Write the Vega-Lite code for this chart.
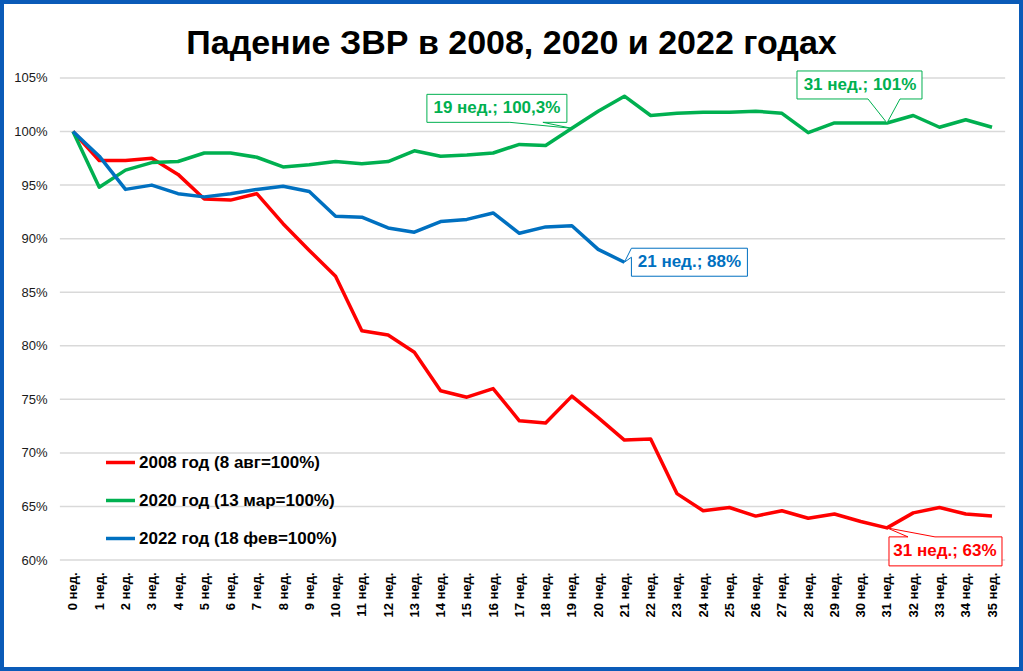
{
  "$schema": "https://vega.github.io/schema/vega-lite/v6.json",
  "width": 1023,
  "height": 671,
  "autosize": {"type": "none"},
  "padding": 0,
  "background": "white",
  "config": {
    "view": {"stroke": "#0a5bb8", "strokeWidth": 8},
    "font": "Liberation Sans"
  },
  "title": {
    "text": "Падение ЗВР в 2008, 2020 и 2022 годах",
    "font": "Liberation Sans",
    "fontSize": 34,
    "fontWeight": "bold",
    "color": "#000000",
    "anchor": "middle",
    "baseline": "alphabetic",
    "offset": -88
  },
  "datasets": {
    "series": [
      {"w": 0, "s": "2008 год (8 авг=100%)", "v": 100},
      {"w": 1, "s": "2008 год (8 авг=100%)", "v": 97.3},
      {"w": 2, "s": "2008 год (8 авг=100%)", "v": 97.3},
      {"w": 3, "s": "2008 год (8 авг=100%)", "v": 97.5},
      {"w": 4, "s": "2008 год (8 авг=100%)", "v": 96.0},
      {"w": 5, "s": "2008 год (8 авг=100%)", "v": 93.7},
      {"w": 6, "s": "2008 год (8 авг=100%)", "v": 93.6},
      {"w": 7, "s": "2008 год (8 авг=100%)", "v": 94.2},
      {"w": 8, "s": "2008 год (8 авг=100%)", "v": 91.4},
      {"w": 9, "s": "2008 год (8 авг=100%)", "v": 88.9},
      {"w": 10, "s": "2008 год (8 авг=100%)", "v": 86.5},
      {"w": 11, "s": "2008 год (8 авг=100%)", "v": 81.4},
      {"w": 12, "s": "2008 год (8 авг=100%)", "v": 81.0},
      {"w": 13, "s": "2008 год (8 авг=100%)", "v": 79.4},
      {"w": 14, "s": "2008 год (8 авг=100%)", "v": 75.8},
      {"w": 15, "s": "2008 год (8 авг=100%)", "v": 75.2},
      {"w": 16, "s": "2008 год (8 авг=100%)", "v": 76.0},
      {"w": 17, "s": "2008 год (8 авг=100%)", "v": 73.0},
      {"w": 18, "s": "2008 год (8 авг=100%)", "v": 72.8},
      {"w": 19, "s": "2008 год (8 авг=100%)", "v": 75.3},
      {"w": 20, "s": "2008 год (8 авг=100%)", "v": 73.3},
      {"w": 21, "s": "2008 год (8 авг=100%)", "v": 71.2},
      {"w": 22, "s": "2008 год (8 авг=100%)", "v": 71.3},
      {"w": 23, "s": "2008 год (8 авг=100%)", "v": 66.2},
      {"w": 24, "s": "2008 год (8 авг=100%)", "v": 64.6},
      {"w": 25, "s": "2008 год (8 авг=100%)", "v": 64.9},
      {"w": 26, "s": "2008 год (8 авг=100%)", "v": 64.1},
      {"w": 27, "s": "2008 год (8 авг=100%)", "v": 64.6},
      {"w": 28, "s": "2008 год (8 авг=100%)", "v": 63.9},
      {"w": 29, "s": "2008 год (8 авг=100%)", "v": 64.3},
      {"w": 30, "s": "2008 год (8 авг=100%)", "v": 63.6},
      {"w": 31, "s": "2008 год (8 авг=100%)", "v": 63.0},
      {"w": 32, "s": "2008 год (8 авг=100%)", "v": 64.4},
      {"w": 33, "s": "2008 год (8 авг=100%)", "v": 64.9},
      {"w": 34, "s": "2008 год (8 авг=100%)", "v": 64.3},
      {"w": 35, "s": "2008 год (8 авг=100%)", "v": 64.1},
      {"w": 0, "s": "2020 год (13 мар=100%)", "v": 100},
      {"w": 1, "s": "2020 год (13 мар=100%)", "v": 94.8},
      {"w": 2, "s": "2020 год (13 мар=100%)", "v": 96.4},
      {"w": 3, "s": "2020 год (13 мар=100%)", "v": 97.1},
      {"w": 4, "s": "2020 год (13 мар=100%)", "v": 97.2},
      {"w": 5, "s": "2020 год (13 мар=100%)", "v": 98.0},
      {"w": 6, "s": "2020 год (13 мар=100%)", "v": 98.0},
      {"w": 7, "s": "2020 год (13 мар=100%)", "v": 97.6},
      {"w": 8, "s": "2020 год (13 мар=100%)", "v": 96.7},
      {"w": 9, "s": "2020 год (13 мар=100%)", "v": 96.9},
      {"w": 10, "s": "2020 год (13 мар=100%)", "v": 97.2},
      {"w": 11, "s": "2020 год (13 мар=100%)", "v": 97.0},
      {"w": 12, "s": "2020 год (13 мар=100%)", "v": 97.2},
      {"w": 13, "s": "2020 год (13 мар=100%)", "v": 98.2},
      {"w": 14, "s": "2020 год (13 мар=100%)", "v": 97.7},
      {"w": 15, "s": "2020 год (13 мар=100%)", "v": 97.8},
      {"w": 16, "s": "2020 год (13 мар=100%)", "v": 98.0},
      {"w": 17, "s": "2020 год (13 мар=100%)", "v": 98.8},
      {"w": 18, "s": "2020 год (13 мар=100%)", "v": 98.7},
      {"w": 19, "s": "2020 год (13 мар=100%)", "v": 100.3},
      {"w": 20, "s": "2020 год (13 мар=100%)", "v": 101.9},
      {"w": 21, "s": "2020 год (13 мар=100%)", "v": 103.3},
      {"w": 22, "s": "2020 год (13 мар=100%)", "v": 101.5},
      {"w": 23, "s": "2020 год (13 мар=100%)", "v": 101.7},
      {"w": 24, "s": "2020 год (13 мар=100%)", "v": 101.8},
      {"w": 25, "s": "2020 год (13 мар=100%)", "v": 101.8},
      {"w": 26, "s": "2020 год (13 мар=100%)", "v": 101.9},
      {"w": 27, "s": "2020 год (13 мар=100%)", "v": 101.7},
      {"w": 28, "s": "2020 год (13 мар=100%)", "v": 99.9},
      {"w": 29, "s": "2020 год (13 мар=100%)", "v": 100.8},
      {"w": 30, "s": "2020 год (13 мар=100%)", "v": 100.8},
      {"w": 31, "s": "2020 год (13 мар=100%)", "v": 100.8},
      {"w": 32, "s": "2020 год (13 мар=100%)", "v": 101.5},
      {"w": 33, "s": "2020 год (13 мар=100%)", "v": 100.4},
      {"w": 34, "s": "2020 год (13 мар=100%)", "v": 101.1},
      {"w": 35, "s": "2020 год (13 мар=100%)", "v": 100.4},
      {"w": 0, "s": "2022 год (18 фев=100%)", "v": 100},
      {"w": 1, "s": "2022 год (18 фев=100%)", "v": 97.7},
      {"w": 2, "s": "2022 год (18 фев=100%)", "v": 94.6},
      {"w": 3, "s": "2022 год (18 фев=100%)", "v": 95.0},
      {"w": 4, "s": "2022 год (18 фев=100%)", "v": 94.2},
      {"w": 5, "s": "2022 год (18 фев=100%)", "v": 93.9},
      {"w": 6, "s": "2022 год (18 фев=100%)", "v": 94.2},
      {"w": 7, "s": "2022 год (18 фев=100%)", "v": 94.6},
      {"w": 8, "s": "2022 год (18 фев=100%)", "v": 94.9},
      {"w": 9, "s": "2022 год (18 фев=100%)", "v": 94.4},
      {"w": 10, "s": "2022 год (18 фев=100%)", "v": 92.1},
      {"w": 11, "s": "2022 год (18 фев=100%)", "v": 92.0},
      {"w": 12, "s": "2022 год (18 фев=100%)", "v": 91.0},
      {"w": 13, "s": "2022 год (18 фев=100%)", "v": 90.6},
      {"w": 14, "s": "2022 год (18 фев=100%)", "v": 91.6},
      {"w": 15, "s": "2022 год (18 фев=100%)", "v": 91.8},
      {"w": 16, "s": "2022 год (18 фев=100%)", "v": 92.4},
      {"w": 17, "s": "2022 год (18 фев=100%)", "v": 90.5},
      {"w": 18, "s": "2022 год (18 фев=100%)", "v": 91.1},
      {"w": 19, "s": "2022 год (18 фев=100%)", "v": 91.2},
      {"w": 20, "s": "2022 год (18 фев=100%)", "v": 89.0},
      {"w": 21, "s": "2022 год (18 фев=100%)", "v": 87.8}
    ],
    "grid": [
      {"v": 60}, {"v": 65}, {"v": 70}, {"v": 75}, {"v": 80},
      {"v": 85}, {"v": 90}, {"v": 95}, {"v": 100}, {"v": 105}
    ],
    "labels": [
      {"w": 19, "v": 100.3, "t": "19 нед.; 100,3%", "k": "g19"},
      {"w": 21, "v": 87.8, "t": "21 нед.; 88%", "k": "b21"},
      {"w": 31, "v": 100.8, "t": "31 нед.; 101%", "k": "g31"},
      {"w": 31, "v": 63.0, "t": "31 нед.; 63%", "k": "r31"}
    ]
  },
  "encoding": {
    "x": {
      "field": "w", "type": "quantitative",
      "scale": {"domain": [-2.78, 36.18], "nice": false, "zero": false},
      "axis": {
        "orient": "bottom", "offset": -109, "title": null,
        "values": [0,1,2,3,4,5,6,7,8,9,10,11,12,13,14,15,16,17,18,19,20,21,22,23,24,25,26,27,28,29,30,31,32,33,34,35],
        "labelExpr": "datum.value + ' нед.'",
        "labelAngle": -90, "labelFontSize": 13, "labelFontWeight": "bold",
        "labelColor": "#000000", "labelPadding": 10,
        "domain": false, "ticks": false, "grid": false, "labelOverlap": false,
        "labelFont": "Liberation Sans"
      }
    },
    "y": {
      "field": "v", "type": "quantitative",
      "scale": {"domain": [49.64, 112.28], "nice": false, "zero": false},
      "axis": {
        "orient": "left", "offset": -58, "title": null,
        "values": [60, 65, 70, 75, 80, 85, 90, 95, 100, 105],
        "labelExpr": "datum.value + '%'",
        "labelFontSize": 13, "labelColor": "#1a1a1a", "labelPadding": 11,
        "domain": false, "ticks": false, "grid": false, "labelOverlap": false,
        "labelFont": "Liberation Sans"
      }
    }
  },
  "layer": [
    {
      "data": {"name": "grid"},
      "mark": {"type": "rule", "color": "#d9d9d9", "strokeWidth": 1.5, "x": {"expr": "scale('x', -0.5)"}, "x2": {"expr": "scale('x', 35.5)"}},
      "encoding": {"x": null}
    },
    {
      "data": {"name": "series"},
      "mark": {"type": "line", "strokeWidth": 3.5, "strokeJoin": "round"},
      "encoding": {
        "color": {
          "field": "s", "type": "nominal",
          "scale": {
            "domain": ["2008 год (8 авг=100%)", "2020 год (13 мар=100%)", "2022 год (18 фев=100%)"],
            "range": ["#ff0000", "#00b050", "#0070c0"]
          },
          "legend": {
            "title": null, "orient": "none", "legendX": 104, "legendY": 446,
            "direction": "vertical",
            "symbolType": "stroke", "symbolSize": 841, "symbolStrokeWidth": 3.5,
            "labelFontSize": 17, "labelFontWeight": "bold", "labelColor": "#000000",
            "labelFont": "Liberation Sans",
            "labelOffset": 2, "rowPadding": 13, "labelLimit": 400
          }
        }
      }
    },
    {
      "data": {"name": "labels"},
      "transform": [{"filter": "datum.k == 'g19'"}],
      "layer": [
        {
          "mark": {"type": "point", "filled": true, "fill": "white", "stroke": "#00b050", "strokeWidth": 1, "opacity": 1, "size": 4,
                   "shape": "M-145,-34H-5V-6H-29L0,0L-62,-6H-145Z"}
        },
        {
          "mark": {"type": "text", "color": "#00b050", "fontWeight": "bold", "fontSize": 17, "font": "Liberation Sans",
                   "align": "center", "baseline": "middle", "dx": -75, "dy": -20},
          "encoding": {"text": {"field": "t"}}
        }
      ]
    },
    {
      "data": {"name": "labels"},
      "transform": [{"filter": "datum.k == 'b21'"}],
      "layer": [
        {
          "mark": {"type": "point", "filled": true, "fill": "white", "stroke": "#0070c0", "strokeWidth": 1, "opacity": 1, "size": 4,
                   "shape": "M7,-14H123V14H7V-5L0,0Z"}
        },
        {
          "mark": {"type": "text", "color": "#0070c0", "fontWeight": "bold", "fontSize": 17, "font": "Liberation Sans",
                   "align": "center", "baseline": "middle", "dx": 65, "dy": 0},
          "encoding": {"text": {"field": "t"}}
        }
      ]
    },
    {
      "data": {"name": "labels"},
      "transform": [{"filter": "datum.k == 'g31'"}],
      "layer": [
        {
          "mark": {"type": "point", "filled": true, "fill": "white", "stroke": "#00b050", "strokeWidth": 1, "opacity": 1, "size": 4,
                   "shape": "M-90,-52H35V-24H13L0,0L-19,-24H-90Z"}
        },
        {
          "mark": {"type": "text", "color": "#00b050", "fontWeight": "bold", "fontSize": 17, "font": "Liberation Sans",
                   "align": "center", "baseline": "middle", "dx": -27, "dy": -38},
          "encoding": {"text": {"field": "t"}}
        }
      ]
    },
    {
      "data": {"name": "labels"},
      "transform": [{"filter": "datum.k == 'r31'"}],
      "layer": [
        {
          "mark": {"type": "point", "filled": true, "fill": "white", "stroke": "#ff0000", "strokeWidth": 1, "opacity": 1, "size": 4,
                   "shape": "M0,0L21,9H2V38H115V9H48Z"}
        },
        {
          "mark": {"type": "text", "color": "#ff0000", "fontWeight": "bold", "fontSize": 17, "font": "Liberation Sans",
                   "align": "center", "baseline": "middle", "dx": 58, "dy": 23},
          "encoding": {"text": {"field": "t"}}
        }
      ]
    }
  ]
}
